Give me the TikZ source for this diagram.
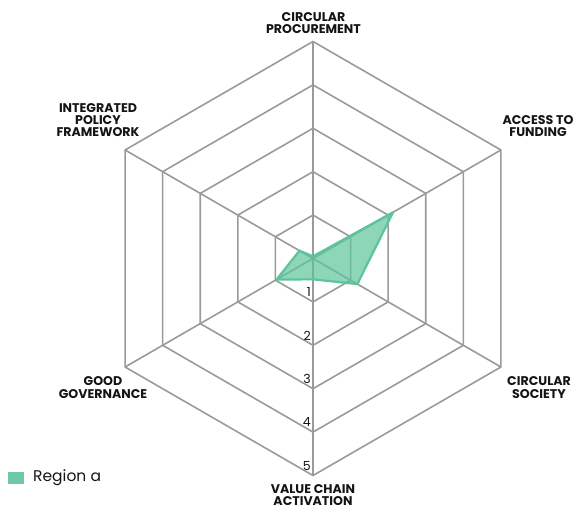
\documentclass[tikz,border=0pt]{standalone}
\usepackage{fontspec}
\usetikzlibrary{calc}
\setmainfont{Poppins}
\definecolor{gridgray}{HTML}{9A9A9A}
\definecolor{seagreen}{HTML}{5CC49A}
\definecolor{labelblack}{HTML}{141414}
\begin{document}
\begin{tikzpicture}[x=1pt,y=-1pt,
  gridline/.style={draw=gridgray, line width=1.6pt, line join=miter},
  datapoly/.style={draw=seagreen, line width=2.2pt, line join=round, fill=seagreen, fill opacity=0.7},
  axlabel/.style={font=\bfseries\fontsize{12.6}{12.3}\selectfont, align=center, text=labelblack, inner sep=0pt},
  numlabel/.style={font=\fontsize{12.5}{12}\selectfont, anchor=south east, inner sep=0pt, text=labelblack},
  legbox/.style={fill=seagreen!90!white, draw=none, minimum width=16pt, minimum height=12.5pt, inner sep=0pt},
  legtext/.style={font=\fontsize{15.5}{16}\selectfont, anchor=west, inner sep=0pt, text=labelblack}
]
\useasboundingbox (0,0) rectangle (573,510);
\def\u{43.4}
\begin{scope}[shift={(313,258.5)}]
  \coordinate (O) at (0,0);
  % axis end points (outer ring)
  \coordinate (aCP) at (270:5*\u);
  \coordinate (aAF) at (330:5*\u);
  \coordinate (aCS) at (30:5*\u);
  \coordinate (aVC) at (90:5*\u);
  \coordinate (aGG) at (150:5*\u);
  \coordinate (aIP) at (210:5*\u);
  % rings
  \foreach \k in {1,...,5} {
    \draw[gridline] (270:\k*\u) -- (330:\k*\u) -- (30:\k*\u) -- (90:\k*\u) -- (150:\k*\u) -- (210:\k*\u) -- cycle;
  }
  % spokes
  \draw[gridline] (aCP) -- (aVC);
  \draw[gridline] (aAF) -- (aGG);
  \draw[gridline] (aCS) -- (aIP);
  % data
  \coordinate (dCP) at (270:0.05*\u);
  \coordinate (dAF) at (330:2.13*\u);
  \coordinate (dCS) at (30:1.18*\u);
  \coordinate (dVC) at (90:0.48*\u);
  \coordinate (dGG) at (150:0.97*\u);
  \coordinate (dIP) at (210:0.36*\u);
  \draw[datapoly] (dCP) -- (dAF) -- (dCS) -- (dVC) -- (dGG) -- (dIP) -- cycle;
  % scale numbers
  \foreach \k in {1,...,5} {
    \node[numlabel] (n\k) at ($(90:\k*\u)+(-2,-5)$) {\k};
  }
\end{scope}
% axis labels
\node[axlabel] (lCP) at (313.5,23) {CIRCULAR\\PROCUREMENT};
\node[axlabel] (lAF) at (538,126) {ACCESS TO\\FUNDING};
\node[axlabel] (lCS) at (539,387.5) {CIRCULAR\\SOCIETY};
\node[axlabel] (lVC) at (313,495) {VALUE CHAIN\\ACTIVATION};
\node[axlabel] (lGG) at (103,387.5) {GOOD\\GOVERNANCE};
\node[axlabel] (lIP) at (98,120) {INTEGRATED\\POLICY\\FRAMEWORK};
% legend
\node[legbox] (lgbox) at (16.3,477.8) {};
\node[legtext] (lgtext) at (33,477.5) {Region a};
\end{tikzpicture}
\end{document}
